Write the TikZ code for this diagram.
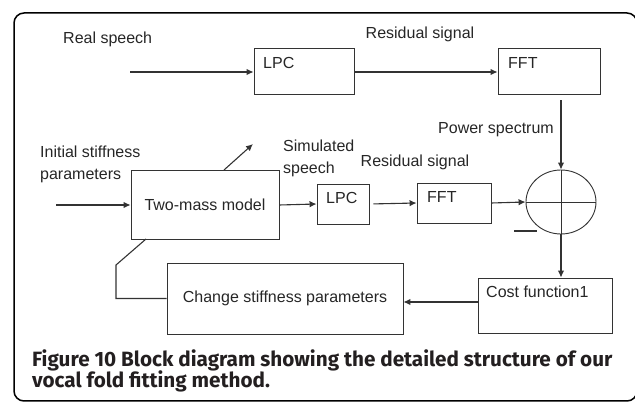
\documentclass[tikz,border=0pt]{standalone}
\usepackage{fontspec}
\setmainfont{Liberation Sans}
\newfontfamily\capfont{Fira Sans}
\usetikzlibrary{calc, shapes.geometric, arrows.meta}
\definecolor{linegray}{HTML}{333333}
\definecolor{capgray}{HTML}{231F20}

\begin{document}
\begin{tikzpicture}[x=1pt,y=-1pt,
    box/.style={draw=linegray, line width=0.9pt, inner sep=0pt},
    lbl/.style={inner sep=0pt, text=black!85, font=\fontsize{16}{24}\selectfont},
    arr/.style={draw=linegray, line width=1.1pt, -{Latex[length=7pt,width=6.5pt]}},
    captext/.style={inner sep=0pt, text=capgray, font=\capfont\bfseries\fontsize{20.7}{21}\selectfont}]
  % Fix the page size and the outer frame
  \useasboundingbox (0,0) rectangle (635,403);
  \clip (0,0) rectangle (635,403);
  \draw[line width=1.5pt, rounded corners=10pt] (14,13) rectangle (637,401);

  % Top row: real speech
  \node[lbl, anchor=west] (real) at (63,39) {Real speech};
  \coordinate (realin) at (130,72);
  \node[box, minimum width=100pt, minimum height=46pt] (lpcA) at (304,71) {};
  \node[lbl, anchor=base west] (lpcAt) at (263,69) {LPC};
  \node[box, minimum width=102pt, minimum height=46pt] (fftA) at (549,71) {};
  \node[lbl, anchor=base west] (fftAt) at (508,69) {FFT};
  \node[lbl] (resA) at (420,34) {Residual signal};
  \node[lbl, anchor=east] (power) at (554,130) {Power spectrum};

  % Middle row: simulated speech
  \node[lbl, anchor=west] (init1) at (40,152) {Initial stiffness};
  \node[lbl, anchor=west] (init2) at (40,176) {parameters};
  \coordinate (initin) at (56,205);
  \node[box, minimum width=148pt, minimum height=69pt, font=\fontsize{16}{24}\selectfont, text=black!85] (twomass) at (205,205) {Two-mass model};
  \coordinate (diagA) at (224,170);
  \coordinate (diagB) at (253,144);
  \node[lbl, anchor=west] (sim1) at (283,146) {Simulated};
  \node[lbl, anchor=west] (sim2) at (283,169) {speech};
  \node[box, minimum width=52pt, minimum height=40pt] (lpcB) at (343,204) {};
  \node[lbl, anchor=base west] (lpcBt) at (326,204) {LPC};
  \node[lbl] (resB) at (415,162) {Residual signal};
  \node[box, minimum width=74pt, minimum height=40pt] (fftB) at (454,203) {};
  \node[lbl, anchor=base west] (fftBt) at (427,203) {FFT};
  \node[box, shape=ellipse, minimum width=70pt, minimum height=64pt] (sum) at (561,202) {};
  \coordinate (minusA) at (514,231);
  \coordinate (minusB) at (537,231);

  % Bottom row: feedback
  \node[box, minimum width=134pt, minimum height=55pt] (cost) at (545,305.5) {};
  \node[lbl, anchor=west] (costt) at (486,292) {Cost function1};
  \node[box, minimum width=236pt, minimum height=71pt, font=\fontsize{16}{24}\selectfont, text=black!85] (change) at (285,298.5) {Change stiffness parameters};
  \coordinate (fb) at (0,302);
  \coordinate (bend) at (116,265);
  \coordinate (tmfoot) at (146,239);

  % Connectors
  \draw[arr] (realin) -- (realin -| lpcA.west);
  \draw[arr] (lpcA.east |- realin) -- (fftA.west |- realin);
  \draw[arr] ([yshift=-6pt]fftA.south -| sum.north) -- (sum.north);
  \draw[arr] (initin) -- (initin -| twomass.west);
  \draw[arr] (diagA) -- (diagB);
  \draw[arr] (twomass.east) -- (lpcB.west);
  \draw[arr, shorten <=4pt] (lpcB.east) -- (fftB.west);
  \draw[arr] (fftB.east) -- (sum.west);
  \draw[linegray, line width=0.9pt] (sum.north) -- (sum.south);
  \draw[linegray, line width=0.9pt] (sum.west) -- (sum.east);
  \draw[linegray, line width=1.2pt] (minusA) -- (minusB);
  \draw[arr] (sum.south) -- (cost.north -| sum.south);
  \draw[arr] (cost.west |- fb) -- (change.east |- fb);
  \draw[linegray, line width=1.1pt] (change.west) -- (bend |- change.west) -- (bend) -- (tmfoot);

  % Caption
  \node[captext, anchor=base west] (cap1) at (32,367) {Figure 10 Block diagram showing the detailed structure of our};
  \node[captext, anchor=base west] (cap2) at (32,388) {vocal fold fitting method.};
\end{tikzpicture}
\end{document}
